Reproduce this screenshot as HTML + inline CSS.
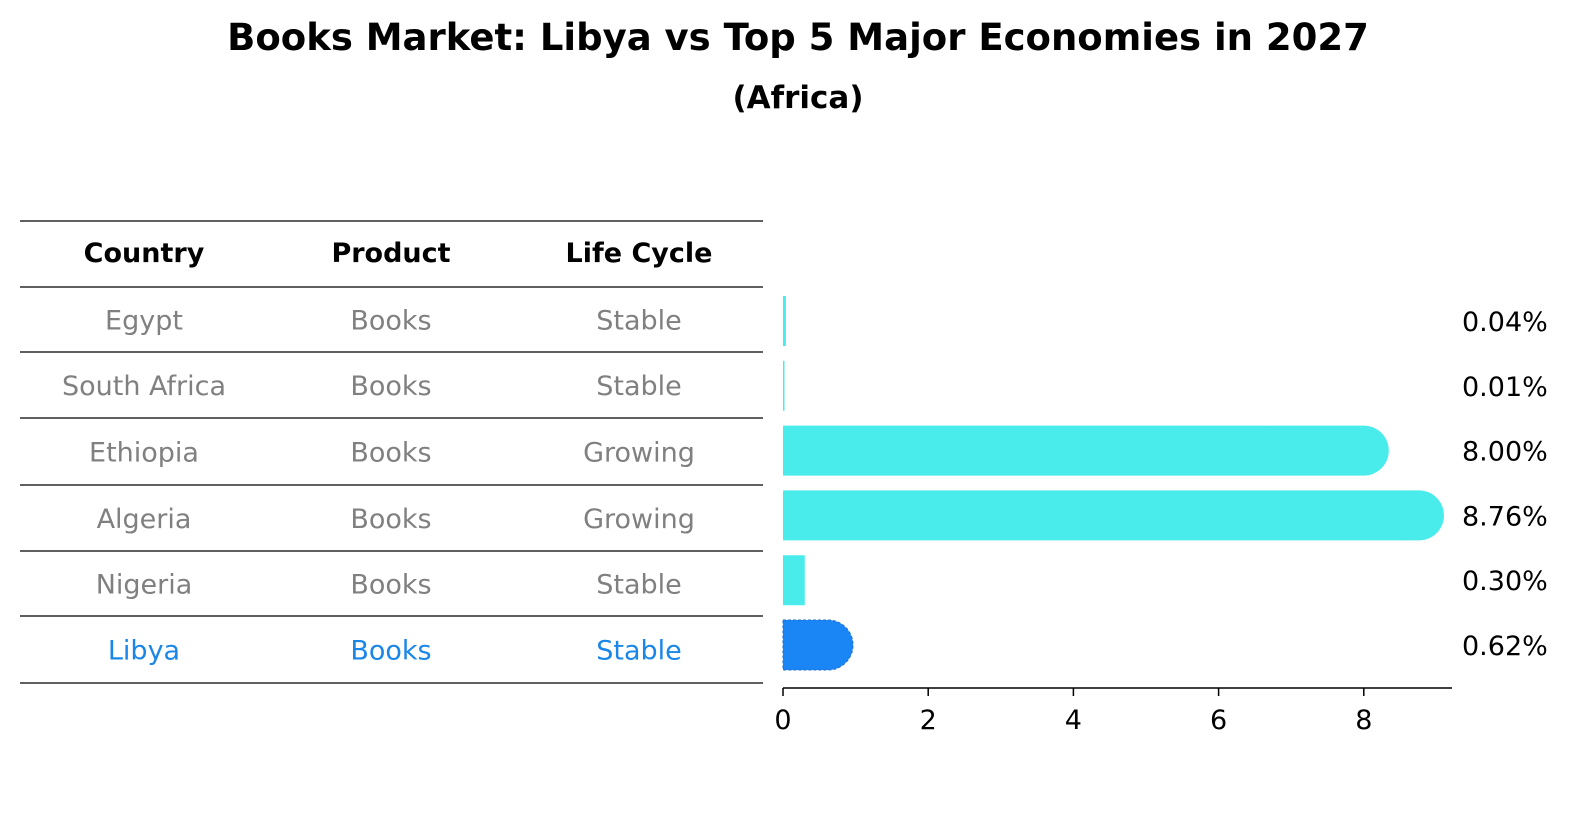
<!DOCTYPE html>
<html><head><meta charset="utf-8"><style>
body{margin:0;background:#fff;font-family:"Liberation Sans","DejaVu Sans",sans-serif}
</style></head><body>
<svg width="1586" height="823" viewBox="0 0 1586 823" xmlns="http://www.w3.org/2000/svg" font-family="DejaVu Sans, Liberation Sans, sans-serif">
<text x="798" y="50" text-anchor="middle" font-size="37" font-weight="bold">Books Market: Libya vs Top 5 Major Economies in 2027</text>
<text x="798" y="108" text-anchor="middle" font-size="31" font-weight="bold">(Africa)</text>
<g id="table"></g>
<g id="bars"></g>
</svg>
<script>
const countries=["Egypt","South Africa","Ethiopia","Algeria","Nigeria","Libya"];
const products=["Books","Books","Books","Books","Books","Books"];
const lifecycle=["Stable","Stable","Growing","Growing","Stable","Stable"];
const values=[0.04,0.01,8.00,8.76,0.30,0.62];
const ticks=[0,2,4,6,8];
const NS="http://www.w3.org/2000/svg";
function mk(t,a,p){const e=document.createElementNS(NS,t);for(const k in a)e.setAttribute(k,a[k]);p.appendChild(e);return e;}
const tb=document.getElementById('table');
const lines=[221,287,352,418,485,551,616,683];
lines.forEach((y,i)=>{const l=mk('line',{x1:20,x2:763,y1:y,y2:y,stroke:'#000','stroke-width':1.2},tb);

});
const cx=[144,391,639];
["Country","Product","Life Cycle"].forEach((h,i)=>{const t=mk('text',{x:cx[i],y:262,'text-anchor':'middle','font-size':27,'font-weight':'bold'},tb);t.textContent=h;

});
countries.forEach((c,r)=>{const y=(lines[r+1]+lines[r+2])/2+10;const col=c==="Libya"?'#1a86e8':'#808080';
[c,products[r],lifecycle[r]].forEach((v,i)=>{const t=mk('text',{x:cx[i],y:y,'text-anchor':'middle','font-size':27,fill:col},tb);t.textContent=v;

});});
const g=document.getElementById('bars');
const x0=783,sc=72.6,xs=v=>x0+v*sc;
const yc=i=>321+i*64.8;const bh=50;
values.forEach((v,i)=>{const lib=countries[i]==="Libya";const col=lib?'#1a86f5':'#4aeceb';
const w=xs(v)-x0;let d;
if(v>0.5){const r=bh/2;d=`M${x0},${yc(i)-r}H${x0+w}A${r},${r} 0 0 1 ${x0+w},${yc(i)+r}H${x0}Z`;}
else d=`M${x0},${yc(i)-bh/2}h${Math.max(w,1.5)}v${bh}h${-Math.max(w,1.5)}Z`;
const p=mk('path',{d:d,fill:col},g);
if(lib){p.setAttribute('stroke','#1f6fd0');p.setAttribute('stroke-dasharray','3,2');p.setAttribute('stroke-width','1');}


const t=mk('text',{x:1462,y:yc(i)+10,'font-size':27},g);t.textContent=v.toFixed(2)+'%';

});
const ax=mk('line',{x1:x0,x2:1452,y1:688,y2:688,stroke:'#000','stroke-width':1.5},g);


ticks.forEach(tv=>{const l=mk('line',{x1:xs(tv),x2:xs(tv),y1:688,y2:696,stroke:'#000','stroke-width':1.5},g);


const t=mk('text',{x:xs(tv),y:729,'text-anchor':'middle','font-size':27},g);t.textContent=tv;

});
</script>
</body></html>
